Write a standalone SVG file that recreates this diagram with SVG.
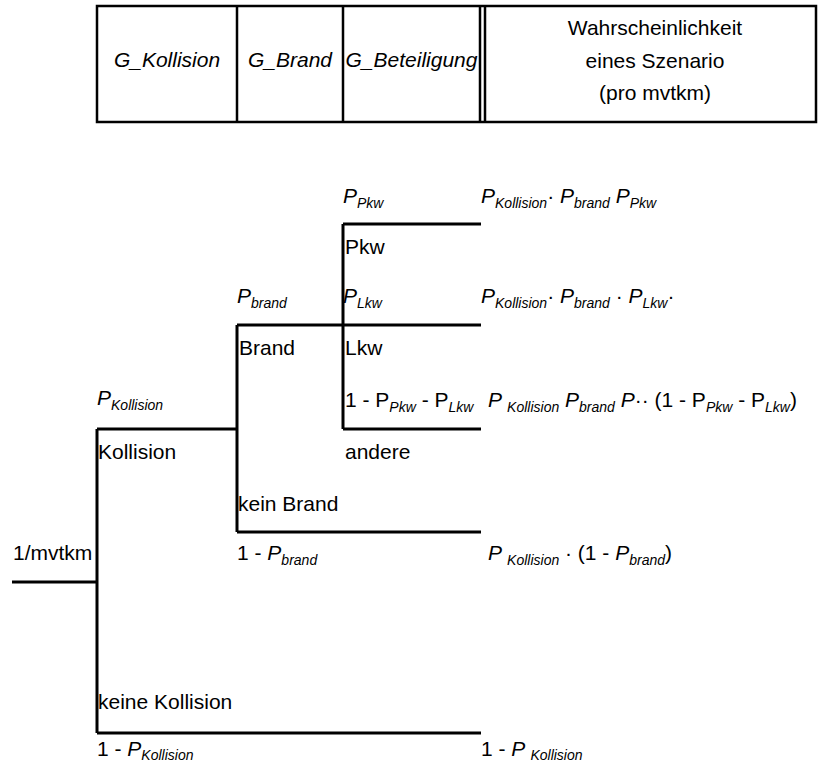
<svg xmlns="http://www.w3.org/2000/svg" width="818" height="764" viewBox="0 0 818 764">
<style>
text{font-family:"Liberation Sans",Arial,sans-serif;font-size:21px;fill:#000}
.i{font-style:italic}
.s{font-size:14px;font-style:italic}
.tl{stroke:#000;stroke-width:3;fill:none}
.tb{stroke:#000;stroke-width:2.5;fill:none}
</style>
<rect width="818" height="764" fill="#fff"/>
<g id="header">
<path class="tb" d="M97,6H816V122H97Z M237,6V122 M343,6V122 M480,6V122 M485,6V122"/>
<text class="i" x="167" y="67" text-anchor="middle">G_Kollision</text>
<text class="i" x="290" y="67" text-anchor="middle">G_Brand</text>
<text class="i" x="411.5" y="67" text-anchor="middle">G_Beteiligung</text>
<text x="655" y="35" text-anchor="middle">Wahrscheinlichkeit</text>
<text x="655" y="68" text-anchor="middle">eines Szenario</text>
<text x="655" y="100" text-anchor="middle">(pro mvtkm)</text>
</g>
<g id="connectors">
<path class="tl" d="M12,582H97 M97,429V733 M97,429H237 M97,733H481 M237,325V532 M237,325H481 M237,532H481 M343,224V429 M343,224H481 M343,429H481"/>
</g>
<g id="root"><text x="13" y="560">1/mvtkm</text></g>
<g id="kollision">
<text class="i" x="97" y="405">P<tspan class="s" dy="5">Kollision</tspan></text>
<text x="98" y="459">Kollision</text>
</g>
<g id="keine-kollision">
<text x="98" y="709">keine Kollision</text>
<text x="97" y="756">1 - <tspan class="i">P</tspan><tspan class="s" dy="4">Kollision</tspan></text>
</g>
<g id="brand">
<text class="i" x="237" y="303">P<tspan class="s" dy="5">brand</tspan></text>
<text x="239" y="355">Brand</text>
</g>
<g id="kein-brand">
<text x="238" y="511">kein Brand</text>
<text x="237" y="560">1 - <tspan class="i">P</tspan><tspan class="s" dy="5">brand</tspan></text>
</g>
<g id="pkw">
<text class="i" x="343" y="203">P<tspan class="s" dy="5">Pkw</tspan></text>
<text x="345" y="254">Pkw</text>
</g>
<g id="lkw">
<text class="i" x="343" y="303">P<tspan class="s" dy="5">Lkw</tspan></text>
<text x="345" y="355">Lkw</text>
</g>
<g id="andere">
<text x="345" y="407">1 - P<tspan class="s" dy="5">Pkw</tspan><tspan dy="-5"> - P</tspan><tspan class="s" dy="5">Lkw</tspan></text>
<text x="345" y="459">andere</text>
</g>
<g id="results">
<text x="481" y="203"><tspan class="i">P</tspan><tspan class="s" dy="5">Kollision</tspan><tspan dy="-5">· </tspan><tspan class="i">P</tspan><tspan class="s" dy="5">brand</tspan><tspan class="i" dy="-5"> P</tspan><tspan class="s" dy="5">Pkw</tspan></text>
<text x="481" y="303"><tspan class="i">P</tspan><tspan class="s" dy="5">Kollision</tspan><tspan dy="-5">· </tspan><tspan class="i">P</tspan><tspan class="s" dy="5">brand</tspan><tspan dy="-5"> · </tspan><tspan class="i">P</tspan><tspan class="s" dy="5">Lkw</tspan><tspan dy="-5">·</tspan></text>
<text x="488" y="407"><tspan class="i">P </tspan><tspan class="s" dy="5">Kollision</tspan><tspan class="i" dy="-5"> P</tspan><tspan class="s" dy="5">brand</tspan><tspan class="i" dy="-5"> P</tspan><tspan>·· (1 - P</tspan><tspan class="s" dy="5">Pkw</tspan><tspan dy="-5"> - P</tspan><tspan class="s" dy="5">Lkw</tspan><tspan dy="-5">)</tspan></text>
<text x="488" y="560"><tspan class="i">P </tspan><tspan class="s" dy="5">Kollision</tspan><tspan dy="-5"> · (1 - </tspan><tspan class="i">P</tspan><tspan class="s" dy="5">brand</tspan><tspan dy="-5">)</tspan></text>
<text x="481" y="756">1 - <tspan class="i">P </tspan><tspan class="s" dy="4">Kollision</tspan></text>
</g>
</svg>
